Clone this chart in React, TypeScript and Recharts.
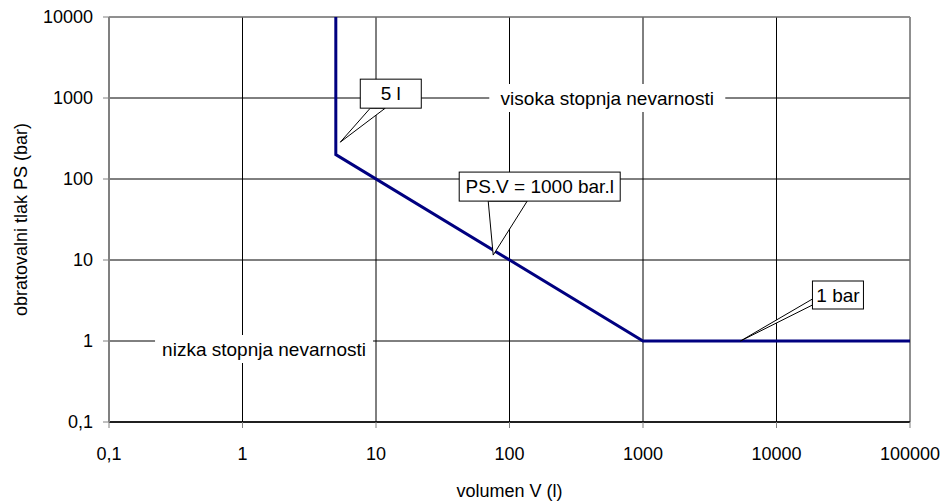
import React from 'react';
import {
  LineChart,
  Line,
  XAxis,
  YAxis,
  CartesianGrid,
  ReferenceDot,
  ReferenceLine
} from 'recharts';

// boundary between the low and high hazard regions
const volumes = [5, 5, 1000, 100000];
const pressures = [10000, 200, 1, 1];

const xTicks = [0.1, 1, 10, 100, 1000, 10000, 100000];
const yTicks = [0.1, 1, 10, 100, 1000, 10000];

const FONT = '"Liberation Sans", Arial, sans-serif';
const FS = 18;
const NOTE_FS = 19;

const chartData = volumes.map((v, i) => ({ x: v, y: pressures[i] }));

const fmt = (v: number) => String(v).replace('.', ',');

if (typeof document !== 'undefined') document.body.style.margin = '0';

// callout box with a wedge pointing at (cx, cy); offsets are relative to the tip
function Callout(props: any) {
  const { cx, cy, box, wedge, text } = props;
  const [x0, y0, x1, y1] = box.map((d: number, i: number) => (i % 2 === 0 ? cx + d : cy + d));
  const w = wedge.map((d: number, i: number) => (i % 2 === 0 ? cx + d : cy + d));
  return (
    <g>
      <polygon
        points={`${w[0]},${w[1]} ${cx},${cy} ${w[2]},${w[3]}`}
        fill="#fff"
        stroke="#000"
        strokeWidth={1}
      />
      <rect x={x0} y={y0} width={x1 - x0} height={y1 - y0} fill="#fff" stroke="#000" strokeWidth={1} />
      <text
        x={(x0 + x1) / 2}
        y={(y0 + y1) / 2}
        textAnchor="middle"
        dominantBaseline="central"
        fontFamily={FONT}
        fontSize={NOTE_FS}
        fill="#000"
      >
        {text}
      </text>
    </g>
  );
}

function AreaLabel(props: any) {
  const { cx, cy, dx, dy, w, h, text } = props;
  const x = cx + dx;
  const y = cy + dy;
  return (
    <g>
      <rect x={x - w / 2} y={y - h / 2} width={w} height={h} fill="#fff" />
      <text x={x} y={y} textAnchor="middle" dominantBaseline="central" fontFamily={FONT} fontSize={NOTE_FS} fill="#000">
        {text}
      </text>
    </g>
  );
}

export default function App() {
  return (
    <div style={{ width: 944, height: 502, background: '#fff' }}>
      <LineChart
        width={944}
        height={502}
        data={chartData}
        margin={{ top: 17, right: 34, bottom: 0, left: 0 }}
      >
        <CartesianGrid stroke="#000" strokeWidth={1} />
        <ReferenceLine y={10000} stroke="#a0a0a0" strokeWidth={1} />
        <ReferenceLine x={100000} stroke="#a0a0a0" strokeWidth={1} />
        <XAxis
          dataKey="x"
          type="number"
          scale="log"
          domain={[0.1, 100000]}
          ticks={xTicks}
          allowDataOverflow
          height={80}
          tickFormatter={fmt}
          tickSize={6}
          tickMargin={19}
          tick={{ fill: '#000', fontSize: FS, fontFamily: FONT }}
          tickLine={{ stroke: '#808080' }}
          axisLine={{ stroke: '#000', strokeWidth: 1.5 }}
          label={{
            content: ({ viewBox }: any) => (
              <text
                x={viewBox.x + viewBox.width / 2}
                y={491}
                textAnchor="middle"
                dominantBaseline="central"
                fontFamily={FONT}
                fontSize={FS}
                fill="#000"
              >
                volumen V (l)
              </text>
            )
          }}
        />
        <YAxis
          type="number"
          scale="log"
          domain={[0.1, 10000]}
          ticks={yTicks}
          allowDataOverflow
          width={109}
          tickFormatter={fmt}
          tickSize={6}
          tickMargin={10}
          tick={{ fill: '#000', fontSize: FS, fontFamily: FONT }}
          tickLine={{ stroke: '#808080' }}
          axisLine={{ stroke: '#808080', strokeWidth: 2 }}
          label={{
            content: ({ viewBox }: any) => {
              const cy = viewBox.y + viewBox.height / 2;
              return (
                <text
                  x={21}
                  y={cy}
                  transform={`rotate(-90 21 ${cy})`}
                  textAnchor="middle"
                  dominantBaseline="central"
                  fontFamily={FONT}
                  fontSize={FS}
                  fill="#000"
                >
                  obratovalni tlak PS (bar)
                </text>
              );
            }
          }}
        />
        <Line
          dataKey="y"
          type="linear"
          stroke="#000080"
          strokeWidth={3}
          dot={false}
          activeDot={false}
          isAnimationActive={false}
        />
        <ReferenceDot
          x={540}
          y={1000}
          r={0}
          shape={(p: any) => <AreaLabel {...p} dx={0} dy={0} w={236} h={28} text="visoka stopnja nevarnosti" />}
        />
        <ReferenceDot
          x={1.45}
          y={1}
          r={0}
          shape={(p: any) => <AreaLabel {...p} dx={0} dy={8} w={218} h={28} text="nizka stopnja nevarnosti" />}
        />
        <ReferenceDot
          x={5.4}
          y={285}
          r={0}
          shape={(p: any) => <Callout {...p} box={[20, -63, 81, -34]} wedge={[30, -34, 45, -34]} text="5 l" />}
        />
        <ReferenceDot
          x={75.5}
          y={11.5}
          r={0}
          shape={(p: any) => <Callout {...p} box={[-34, -83, 127, -54]} wedge={[-5, -54, 34, -54]} text="PS.V = 1000 bar.l" />}
        />
        <ReferenceDot
          x={5370}
          y={1}
          r={0}
          shape={(p: any) => <Callout {...p} box={[72, -60, 123, -32]} wedge={[72, -42, 72, -36]} text="1 bar" />}
        />
      </LineChart>
    </div>
  );
}
